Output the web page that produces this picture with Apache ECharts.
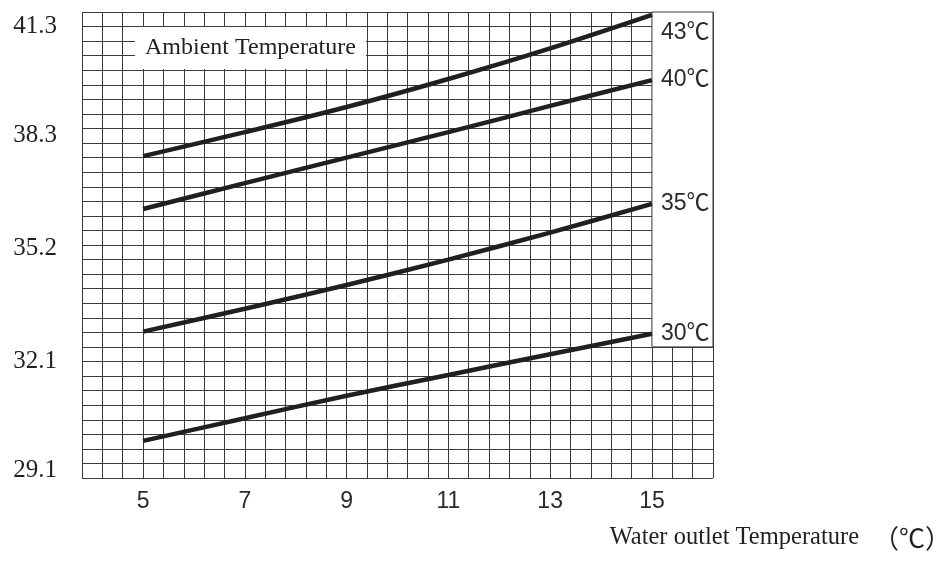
<!DOCTYPE html>
<html>
<head>
<meta charset="utf-8">
<script src="https://cdn.jsdelivr.net/npm/echarts@6/dist/echarts.min.js"></script>
<style>html,body{margin:0;padding:0;background:#fff}#c{width:952px;height:575px}</style>
</head>
<body>
<div id="c"></div>
<script>
// Water outlet temperature (x) values
const waterOutlet = [5, 7, 9, 11, 13, 15];
// Ambient temperature curves (y values)
const amb43 = [37.74, 38.40, 39.09, 39.86, 40.70, 41.62];
const amb40 = [36.29, 37.00, 37.70, 38.40, 39.12, 39.83];
const amb35 = [32.92, 33.55, 34.20, 34.90, 35.64, 36.43];
const amb30 = [29.92, 30.54, 31.16, 31.73, 32.30, 32.86];
const curveNames = ['43℃', '40℃', '35℃', '30℃'];
// Tick labels
const xTicks = [5, 7, 9, 11, 13, 15];
const yTicks = [29.1, 32.1, 35.2, 38.3, 41.3];

const X_MIN = 3.8, X_MAX = 16.2, Y_MIN = 28.9, Y_MAX = 41.7;
const INK = '#231f20';
const GRIDC = '#3a3a3a';

function pairs(ys) { return waterOutlet.map((x, i) => [x, ys[i]]); }

const chart = echarts.init(document.getElementById('c'), null, {renderer: 'canvas'});
const curves = [amb43, amb40, amb35, amb30];
const series = curves.map((ys, i) => ({
  type: 'line',
  name: curveNames[i],
  xAxisIndex: 0, yAxisIndex: 0,
  data: pairs(ys),
  smooth: 0.35,
  symbol: 'none',
  z: 3,
  lineStyle: {color: INK, width: 4.5, cap: 'butt'},
  endLabel: {
    show: true,
    formatter: curveNames[i],
    distance: 9,
    offset: i === 0 ? [0, 18] : [0, 0],
    color: '#2a2a2a',
    fontFamily: 'Liberation Sans, Noto Sans CJK SC, sans-serif',
    fontSize: 23
  },
  markArea: i === 0 ? {
    silent: true,
    itemStyle: {color: '#fff', borderColor: GRIDC, borderWidth: 1},
    data: [[{xAxis: 15, yAxis: 32.5}, {xAxis: X_MAX, yAxis: Y_MAX}]]
  } : undefined
}));

chart.setOption({
  animation: false,
  backgroundColor: '#fff',
  title: [
    {
      text: 'Ambient Temperature',
      left: 135, top: 27,
      padding: [9, 10],
      backgroundColor: '#fff',
      textStyle: {fontFamily: 'Liberation Serif, serif', fontSize: 24, fontWeight: 'normal', color: INK, lineHeight: 24}
    },
    {
      text: '{a|Water outlet Temperature}{b|（℃）}',
      right: 1, top: 525,
      padding: 0,
      textStyle: {
        fontWeight: 'normal',
        rich: {
          a: {fontFamily: 'Liberation Serif, serif', fontSize: 24.5, fontWeight: 'normal', color: INK},
          b: {fontFamily: 'Noto Sans CJK SC, sans-serif', fontSize: 26, fontWeight: 'normal', color: INK, padding: [0, 0, 0, 14]}
        }
      }
    }
  ],
  grid: {left: 82, top: 12, width: 631, height: 466},
  xAxis: [
    {
      type: 'value', min: X_MIN, max: X_MAX,
      axisLine: {show: false}, axisTick: {show: false}, splitLine: {show: false},
      axisLabel: {
        customValues: xTicks, margin: 12,
        color: '#2a2a2a', fontFamily: 'Liberation Sans, sans-serif', fontSize: 23
      }
    },
    {
      type: 'value', min: 0, max: 31, interval: 1,
      axisLine: {show: false}, axisTick: {show: false}, axisLabel: {show: false},
      splitLine: {show: true, lineStyle: {color: GRIDC, width: 1}}
    }
  ],
  yAxis: [
    {
      type: 'value', min: Y_MIN, max: Y_MAX,
      axisLine: {show: false}, axisTick: {show: false}, splitLine: {show: false},
      axisLabel: {
        customValues: yTicks, margin: 25,
        color: INK, fontFamily: 'Liberation Serif, serif', fontSize: 25,
        formatter: v => v.toFixed(1)
      }
    },
    {
      type: 'value', min: 0, max: 32, interval: 1,
      axisLine: {show: false}, axisTick: {show: false}, axisLabel: {show: false},
      splitLine: {show: true, lineStyle: {color: GRIDC, width: 1}}
    }
  ],
  series: series
});
</script>
</body>
</html>
